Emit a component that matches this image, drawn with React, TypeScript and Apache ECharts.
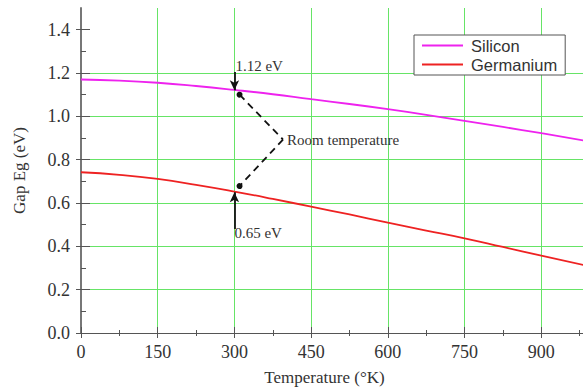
import React, { useEffect, useRef } from "react";
import * as echarts from "echarts";

const temperatures = [0, 75, 150, 225, 300, 375, 450, 525, 600, 675, 750, 825, 900, 1000];
const silicon = [1.17, 1.165, 1.155, 1.14, 1.122, 1.102, 1.079, 1.057, 1.033, 1.007, 0.979, 0.951, 0.922, 0.882];
const germanium = [0.742, 0.73, 0.711, 0.684, 0.653, 0.619, 0.583, 0.547, 0.509, 0.473, 0.437, 0.397, 0.357, 0.305];
const yMajorTicks = [0, 0.2, 0.4, 0.6, 0.8, 1.0, 1.2, 1.4];
const yMinorTicks = [0.1, 0.3, 0.5, 0.7, 0.9, 1.1, 1.3];
const roomT = 300;
const siRoom = 1.12;
const geRoom = 0.65;

const SERIF = "'Liberation Serif', 'Times New Roman', serif";
const SANS = "'Liberation Sans', Arial, sans-serif";
const GRID_GREEN = "#66e466";

export default function App() {
  const ref = useRef<HTMLDivElement>(null);
  useEffect(() => {
    document.body.style.margin = "0";
    const chart = echarts.init(ref.current!, null, { renderer: "svg" });
    const baseX = {
      type: "value",
      min: 0,
      max: 1050,
      interval: 150,
      position: "bottom",
    };
    const baseY = {
      type: "value",
      min: 0,
      max: 1.5,
      interval: 0.2,
      position: "left",
    };
    const annLabel = (text: string) => ({
      show: true,
      position: "right",
      distance: 0,
      formatter: text,
      fontFamily: SERIF,
      fontSize: 15,
      color: "#333",
    });
    chart.setOption({
      animation: false,
      backgroundColor: "#ffffff",
      grid: { left: 81, right: -35, top: 8, bottom: 57, containLabel: false, outerBoundsMode: "none" },
      legend: {
        left: 414,
        top: 35,
        orient: "vertical",
        backgroundColor: "#ffffff",
        borderColor: "#555",
        borderWidth: 1,
        borderRadius: 0,
        padding: [2, 8, 2, 8],
        itemGap: 2,
        itemWidth: 41,
        itemHeight: 2,
        icon: "rect",
        textStyle: { fontFamily: SANS, fontSize: 16.5, color: "#333", lineHeight: 16, padding: [0, 0, 0, 3] },
        data: ["Silicon", "Germanium"],
      },
      xAxis: [
        {
          ...baseX,
          name: "Temperature (°K)",
          nameLocation: "middle",
          nameGap: 36,
          nameTextStyle: { fontFamily: SERIF, fontSize: 17, color: "#333", padding: [0, 50, 0, 0] },
          axisLine: { onZero: false, lineStyle: { color: "#555", width: 1 } },
          axisTick: { show: true, inside: false, length: 5, lineStyle: { color: "#555" } },
          minorTick: { show: true, splitNumber: 2, length: 3, lineStyle: { color: "#555" } },
          axisLabel: { margin: 10, fontFamily: SERIF, fontSize: 18, color: "#333", showMaxLabel: false },
          splitLine: { show: true, showMinLine: false, lineStyle: { color: GRID_GREEN, width: 1 } },
        },
        {
          ...baseX,
          axisLine: { show: false, onZero: false },
          axisTick: { show: true, inside: true, length: 6, lineStyle: { color: "#555" } },
          minorTick: { show: true, splitNumber: 2, length: 3, lineStyle: { color: "#555" } },
          axisLabel: { show: false },
          splitLine: { show: false },
        },
      ],
      yAxis: [
        {
          ...baseY,
          name: "Gap Eg (eV)",
          nameLocation: "middle",
          nameGap: 53,
          nameTextStyle: { fontFamily: SERIF, fontSize: 17, color: "#333" },
          axisLine: { show: true, onZero: false, lineStyle: { color: "#777", width: 2 } },
          axisTick: { show: true, inside: false, length: 5, customValues: yMajorTicks, lineStyle: { color: "#555" } },
          axisLabel: {
            margin: 11,
            fontFamily: SERIF,
            fontSize: 18,
            color: "#333",
            customValues: yMajorTicks,
            formatter: (v: number) => v.toFixed(1),
          },
          splitLine: { show: true, showMinLine: false, showMaxLine: false, lineStyle: { color: GRID_GREEN, width: 1 } },
        },
        {
          ...baseY,
          axisLine: { show: false, onZero: false },
          axisTick: { show: true, inside: true, length: 9, customValues: yMajorTicks, lineStyle: { color: "#555" } },
          axisLabel: { show: false },
          splitLine: { show: false },
        },
        {
          ...baseY,
          axisLine: { show: false, onZero: false },
          axisTick: { show: true, inside: true, length: 5, customValues: yMinorTicks, lineStyle: { color: "#555" } },
          axisLabel: { show: false },
          splitLine: { show: false },
        },
      ],
      series: [
        {
          name: "Silicon",
          type: "line",
          xAxisIndex: 0,
          yAxisIndex: 0,
          smooth: true,
          showSymbol: false,
          symbol: "none",
          color: "#ee22ee",
          lineStyle: { color: "#ee22ee", width: 1.8 },
          data: temperatures.map((t, i) => [t, silicon[i]]),
          markLine: {
            silent: true,
            animation: false,
            label: { show: false },
            data: [
              [
                { coord: [roomT, 1.205], symbol: "none" },
                { coord: [roomT, siRoom], symbol: "arrow", symbolSize: [7, 10] },
              ],
              [
                { coord: [roomT, geRoom - 0.17], symbol: "none" },
                { coord: [roomT, geRoom], symbol: "arrow", symbolSize: [7, 10] },
              ],
            ],
            lineStyle: { color: "#111", width: 1.8, type: "solid" },
          },
          markPoint: {
            silent: true,
            symbol: "circle",
            symbolSize: 0,
            data: [
              { coord: [302, 1.233], label: annLabel("1.12 eV") },
              { coord: [300, 0.462], label: annLabel("0.65 eV") },
              { coord: [403, 0.893], label: annLabel("Room temperature") },
            ],
          },
        },
        {
          name: "Germanium",
          type: "line",
          xAxisIndex: 0,
          yAxisIndex: 0,
          smooth: true,
          showSymbol: false,
          symbol: "none",
          color: "#ee2222",
          lineStyle: { color: "#ee2222", width: 1.8 },
          data: temperatures.map((t, i) => [t, germanium[i]]),
          markLine: {
            silent: true,
            animation: false,
            label: { show: false },
            lineStyle: { color: "#111", width: 1.8, type: [7, 5] },
            data: [
              [
                { coord: [310, 1.1], symbol: "circle", symbolSize: 6 },
                { coord: [395, 0.893], symbol: "none" },
              ],
              [
                { coord: [395, 0.893], symbol: "none" },
                { coord: [310, 0.678], symbol: "circle", symbolSize: 6 },
              ],
            ],
          },
        },
      ],
    });
    return () => chart.dispose();
  }, []);
  return <div ref={ref} style={{ width: 583, height: 390 }} />;
}
